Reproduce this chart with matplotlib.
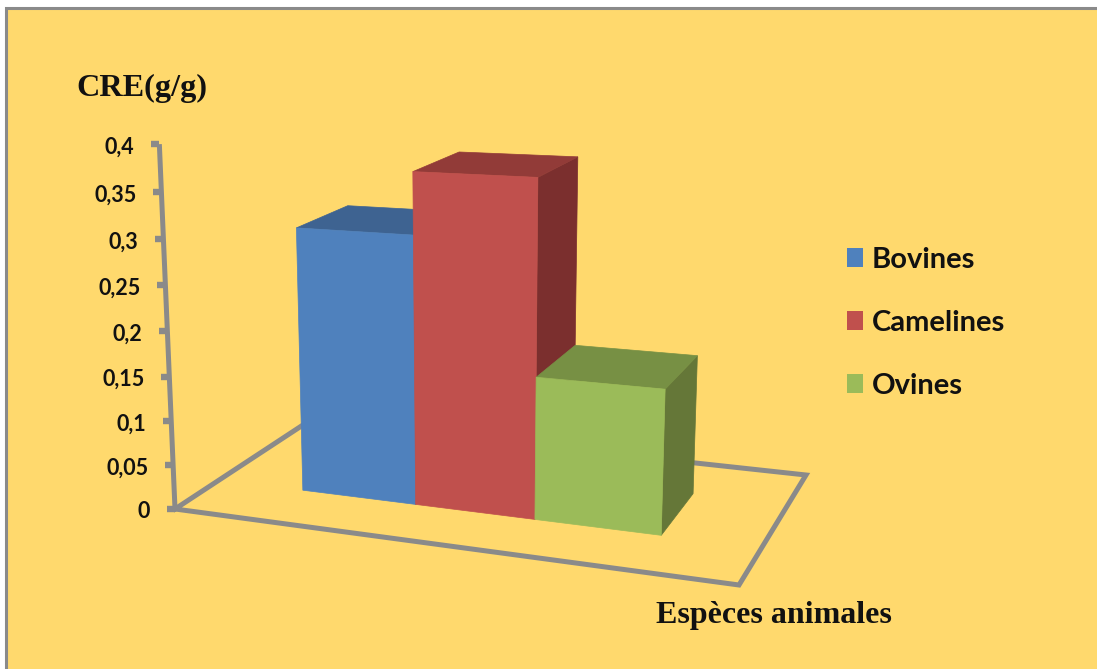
import numpy as np
import matplotlib
matplotlib.use("Agg")
import matplotlib.pyplot as plt
from matplotlib.patches import Patch, Rectangle

species = ["Bovines", "Camelines", "Ovines"]
cre_values = [0.298, 0.365, 0.156]
y_ticks = [0, 0.05, 0.1, 0.15, 0.2, 0.25, 0.3, 0.35, 0.4]
y_tick_labels = ["0", "0,05", "0,1", "0,15", "0,2", "0,25", "0,3", "0,35", "0,4"]

front_colors = ["#4F81BD", "#C0504D", "#9BBB59"]
top_colors = ["#3E6391", "#923B38", "#779044"]
side_colors = ["#335178", "#7B2F2E", "#657738"]
BACKGROUND = "#FFD96D"
GREY = "#8A8A8A"

# camera: floor corners on screen, then the point where the verticals meet
A = (175, 509)
B = (739, 585)
C = (806, 475)
D = (309, 421)
VANISH = (475, 7500)
Z_PERSP = -0.124
Z_MAX = 0.4
BAR_START = 0.171
BAR_WIDTH = 0.2208
DEPTH_FRONT, DEPTH_BACK = 0.302, 0.698

s = np.array([A[0] - B[0] + C[0] - D[0], A[1] - B[1] + C[1] - D[1]], float)
m = np.array([[B[0] - C[0], D[0] - C[0]], [B[1] - C[1], D[1] - C[1]]], float)
g, h = np.linalg.solve(m, s)
col_x = np.array([B[0] * (1 + g) - A[0], B[1] * (1 + g) - A[1], g])
col_y = np.array([D[0] * (1 + h) - A[0], D[1] * (1 + h) - A[1], h])
col_z = Z_PERSP * np.array([VANISH[0], VANISH[1], 1.0])
origin = np.array([A[0], A[1], 1.0])


def project(x, y, z=0):
    p = x * col_x + y * col_y + z * col_z + origin
    return p[0] / p[2], p[1] / p[2]


fig = plt.figure(figsize=(10.97, 6.69), dpi=100, facecolor="white")
ax = fig.add_axes([0, 0, 1, 1])
ax.set_xlim(0, 1097)
ax.set_ylim(669, 0)
ax.axis("off")

ax.add_patch(Rectangle((6, 8), 1200, 800, facecolor=BACKGROUND, edgecolor=GREY, linewidth=2.2))

# floor outline
corners = [project(0, 0), project(1, 0), project(1, 1), project(0, 1), project(0, 0)]
ax.plot(*zip(*corners), color=GREY, linewidth=3.6, solid_joinstyle="miter")

# value axis and its ticks
ax.plot(*zip(project(0, 0), project(0, 0, Z_MAX)), color=GREY, linewidth=3.6, solid_capstyle="butt")
for tick, label in zip(y_ticks, y_tick_labels):
    px, py = project(0, 0, tick)
    ax.plot([px - 8, px], [py, py], color=GREY, linewidth=4.6, solid_capstyle="butt")
    ax.text(px - 25, py + 3, label, ha="right", va="center", family="Lato",
            fontweight="bold", fontsize=15.5, color="#111111")

# bars, drawn left to right so each one covers the side of the previous
for i, value in enumerate(cre_values):
    x0 = BAR_START + i * BAR_WIDTH
    x1 = x0 + BAR_WIDTH
    front = [project(x0, DEPTH_FRONT), project(x1, DEPTH_FRONT),
             project(x1, DEPTH_FRONT, value), project(x0, DEPTH_FRONT, value)]
    top = [project(x0, DEPTH_FRONT, value), project(x1, DEPTH_FRONT, value),
           project(x1, DEPTH_BACK, value), project(x0, DEPTH_BACK, value)]
    side = [project(x1, DEPTH_FRONT), project(x1, DEPTH_BACK),
            project(x1, DEPTH_BACK, value), project(x1, DEPTH_FRONT, value)]
    ax.fill(*zip(*side), color=side_colors[i], linewidth=0.5, zorder=3 + i)
    ax.fill(*zip(*top), color=top_colors[i], linewidth=0.5, zorder=3 + i)
    ax.fill(*zip(*front), color=front_colors[i], linewidth=0.5, zorder=3 + i)

ax.text(76, 88, "CRE(g/g)", family="Liberation Serif", fontweight="bold", fontsize=23.2,
        ha="left", va="center", color="#111111")
ax.text(656, 615, "Espèces animales", family="Liberation Serif", fontweight="bold", fontsize=23,
        ha="left", va="center", color="#111111")

handles = [Patch(facecolor=c, edgecolor="none", label=n) for c, n in zip(front_colors, species)]
ax.legend(handles=handles, loc="center left", bbox_to_anchor=(847 / 1097, 1 - 323 / 669),
          frameon=False, prop={"family": "Lato", "weight": "bold", "size": 21},
          handlelength=0.56, handleheight=0.62, handletextpad=0.3, labelspacing=1.27,
          borderpad=0, borderaxespad=0, labelcolor="#111111")

fig.savefig("out.png", dpi=100, facecolor=fig.get_facecolor())
